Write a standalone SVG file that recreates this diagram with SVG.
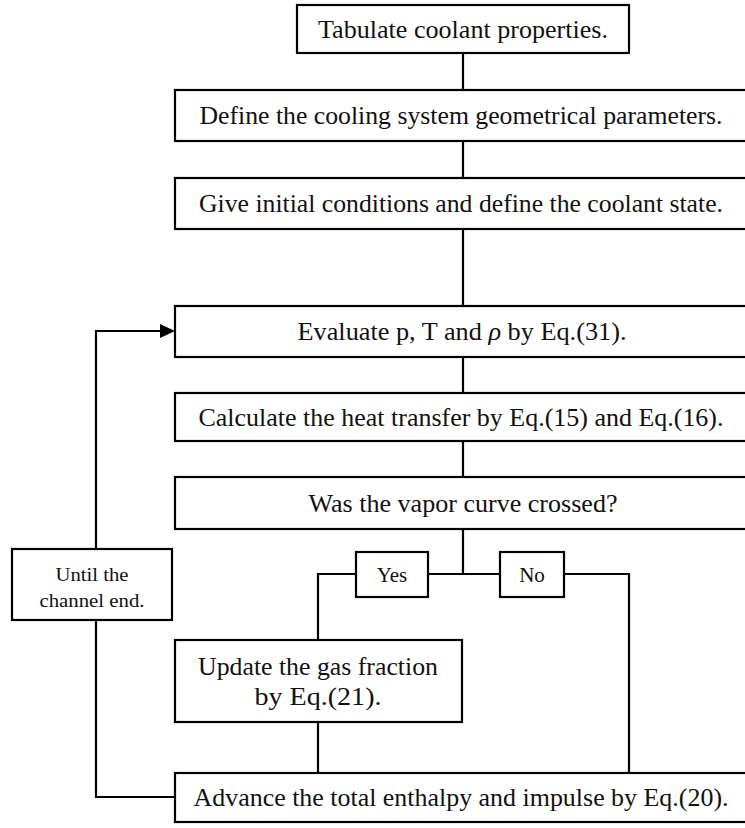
<svg xmlns="http://www.w3.org/2000/svg" width="745" height="828" viewBox="0 0 745 828">
<style>
.box{fill:#fff;stroke:#000;stroke-width:2.2}
.ln{fill:none;stroke:#000;stroke-width:2.2}
text{fill:#111;text-anchor:middle}
.t{font-size:26px}
.s{font-size:21px}
.u{font-size:19px}
</style>
<rect width="745" height="828" fill="#fff"/>
<g id="connectors">
<line class="ln" x1="463" y1="53" x2="463" y2="90"/>
<line class="ln" x1="463" y1="141" x2="463" y2="178"/>
<line class="ln" x1="463" y1="229" x2="463" y2="306"/>
<line class="ln" x1="463" y1="357" x2="463" y2="393"/>
<line class="ln" x1="463" y1="441" x2="463" y2="477"/>
<line class="ln" x1="463" y1="529" x2="463" y2="574"/>
<polyline class="ln" points="356,574 318,574 318,640"/>
<line class="ln" x1="428" y1="574" x2="500" y2="574"/>
<polyline class="ln" points="564,574 629,574 629,773"/>
<line class="ln" x1="318" y1="722" x2="318" y2="773"/>
<polyline class="ln" points="175,797 96,797 96,620"/>
<polyline class="ln" points="96,549 96,331 162,331"/>
<path d="M160,324 L175,331 L160,338 z" fill="#000"/>
</g>
<g id="n1" font-family="Liberation Serif, Times New Roman, serif"><rect class="box" x="297" y="5" width="332" height="48"/><text class="t" x="463" y="38" textLength="290" lengthAdjust="spacingAndGlyphs">Tabulate coolant properties.</text></g>
<g id="n2" font-family="Liberation Serif, Times New Roman, serif"><rect class="box" x="175" y="90" width="580" height="51"/><text class="t" x="461" y="124" textLength="523" lengthAdjust="spacingAndGlyphs">Define the cooling system geometrical parameters.</text></g>
<g id="n3" font-family="Liberation Serif, Times New Roman, serif"><rect class="box" x="175" y="178" width="580" height="51"/><text class="t" x="461" y="212" textLength="524" lengthAdjust="spacingAndGlyphs">Give initial conditions and define the coolant state.</text></g>
<g id="n4" font-family="Liberation Serif, Times New Roman, serif"><rect class="box" x="175" y="306" width="580" height="51"/><text class="t" x="462" y="340" textLength="329" lengthAdjust="spacingAndGlyphs">Evaluate p, T and <tspan font-style="italic">ρ</tspan> by Eq.(31).</text></g>
<g id="n5" font-family="Liberation Serif, Times New Roman, serif"><rect class="box" x="175" y="393" width="580" height="48"/><text class="t" x="461" y="426" textLength="525" lengthAdjust="spacingAndGlyphs">Calculate the heat transfer by Eq.(15) and Eq.(16).</text></g>
<g id="n6" font-family="Liberation Serif, Times New Roman, serif"><rect class="box" x="175" y="477" width="580" height="52"/><text class="t" x="463" y="512" textLength="309" lengthAdjust="spacingAndGlyphs">Was the vapor curve crossed?</text></g>
<g id="yes" font-family="Liberation Serif, Times New Roman, serif"><rect class="box" x="356" y="552" width="72" height="45"/><text class="s" x="392" y="582">Yes</text></g>
<g id="no" font-family="Liberation Serif, Times New Roman, serif"><rect class="box" x="500" y="552" width="64" height="45"/><text class="s" x="532" y="582">No</text></g>
<g id="until" font-family="Liberation Serif, Times New Roman, serif"><rect class="box" x="12" y="549" width="160" height="71"/><text class="u" x="92" y="581" textLength="73" lengthAdjust="spacingAndGlyphs">Until the</text><text class="u" x="92" y="607" textLength="105" lengthAdjust="spacingAndGlyphs">channel end.</text></g>
<g id="n7" font-family="Liberation Serif, Times New Roman, serif"><rect class="box" x="175" y="640" width="287" height="82"/><text class="t" x="318" y="675" textLength="240" lengthAdjust="spacingAndGlyphs">Update the gas fraction</text><text class="t" x="318" y="705" textLength="127" lengthAdjust="spacingAndGlyphs">by  Eq.(21).</text></g>
<g id="n8" font-family="Liberation Serif, Times New Roman, serif"><rect class="box" x="175" y="773" width="580" height="49"/><text class="t" x="461" y="806" textLength="535" lengthAdjust="spacingAndGlyphs">Advance  the total enthalpy and impulse by Eq.(20).</text></g>
</svg>
